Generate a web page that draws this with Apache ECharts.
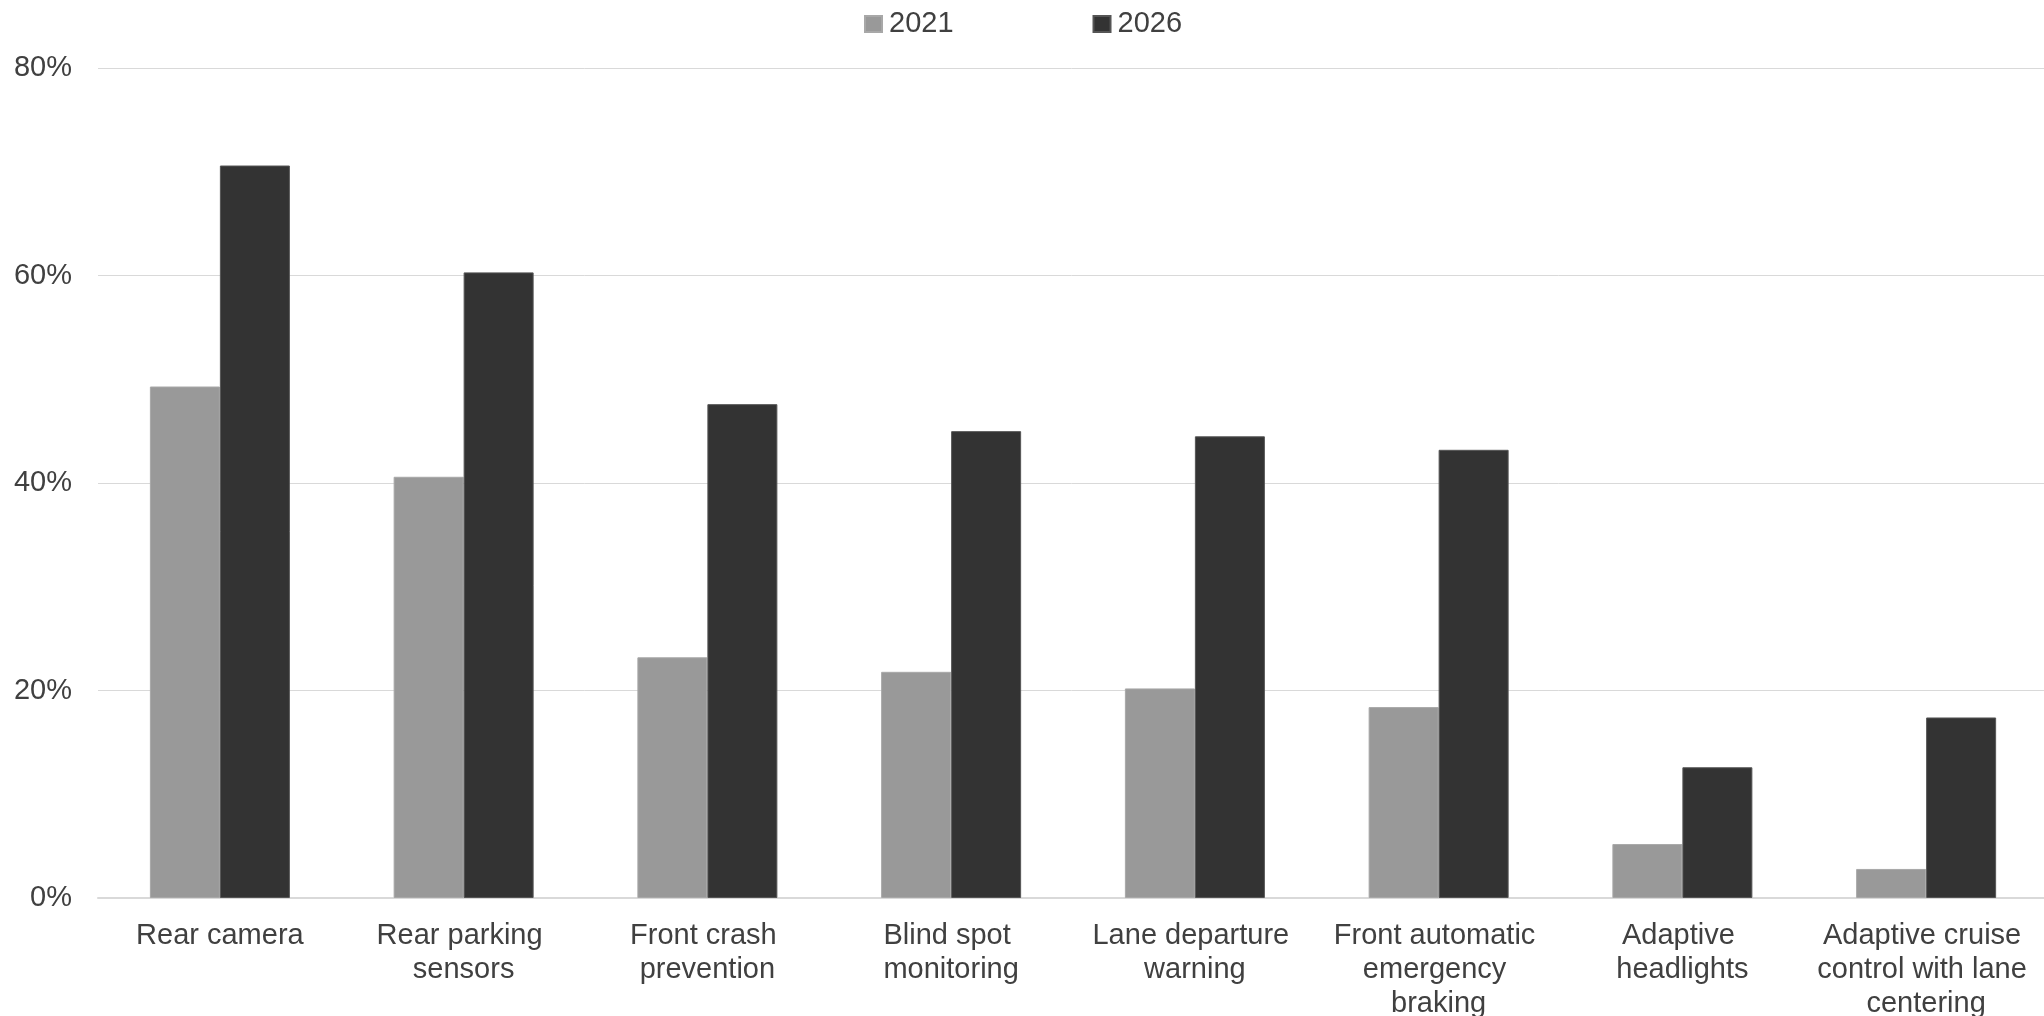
<!DOCTYPE html>
<html>
<head>
<meta charset="utf-8">
<title>Driver assistance feature adoption, 2021 vs 2026</title>
<script src="https://cdn.jsdelivr.net/npm/echarts@6/dist/echarts.min.js"></script>
<style>
  html, body { margin: 0; padding: 0; background: #ffffff; }
  #chart { width: 2044px; height: 1016px; }
</style>
</head>
<body>
<div id="chart"></div>
<script>
// Feature categories along the x axis
const categories = [
  'Rear camera',
  'Rear parking sensors',
  'Front crash prevention',
  'Blind spot monitoring',
  'Lane departure warning',
  'Front automatic emergency braking',
  'Adaptive headlights',
  'Adaptive cruise control with lane centering'
];

// Share of vehicles with each feature (%)
const values2021 = [49.3, 40.6, 23.2, 21.8, 20.2, 18.4, 5.2, 2.8];
const values2026 = [70.6, 60.3, 47.6, 45.0, 44.5, 43.2, 12.6, 17.4];

// Series names shown in the legend
const seriesNames = ['2021', '2026'];

// Value axis ticks
const yTicks = [0, 20, 40, 60, 80];

const FONT = '"Liberation Sans", Arial, Helvetica, sans-serif';
const TEXT = '#404040';

const chart = echarts.init(document.getElementById('chart'), null, { renderer: 'canvas' });

chart.setOption({
  animation: false,
  backgroundColor: '#ffffff',
  textStyle: { fontFamily: FONT },
  legend: {
    top: 8,
    left: 864,
    padding: 0,
    icon: 'rect',
    itemWidth: 17,
    itemHeight: 16,
    itemGap: 139,
    textStyle: {
      color: TEXT,
      fontSize: 29,
      fontFamily: FONT,
      lineHeight: 32,
      padding: [0, 0, 0, 2]
    },
    data: seriesNames
  },
  grid: {
    left: 98,
    right: -4,
    top: 68,
    bottom: 118,
    containLabel: false,
    outerBoundsMode: 'none'
  },
  xAxis: {
    type: 'category',
    data: categories,
    axisLine: { show: true, lineStyle: { color: '#d9d9d9', width: 2 } },
    axisTick: { show: false },
    axisLabel: {
      interval: 0,
      margin: 21,
      color: TEXT,
      fontSize: 29,
      fontFamily: FONT,
      lineHeight: 34,
      width: 222,
      overflow: 'break',
      align: 'center'
    }
  },
  yAxis: {
    type: 'value',
    min: yTicks[0],
    max: yTicks[yTicks.length - 1],
    interval: yTicks[1] - yTicks[0],
    axisLine: { show: false },
    axisTick: { show: false },
    splitLine: { show: true, lineStyle: { color: '#d9d9d9', width: 1 } },
    axisLabel: {
      margin: 26,
      color: TEXT,
      fontSize: 29,
      fontFamily: FONT,
      formatter: '{value}%'
    }
  },
  series: [
    {
      name: seriesNames[0],
      type: 'bar',
      data: values2021,
      barWidth: 70,
      barGap: '0%',
      itemStyle: { color: '#999999', borderColor: '#a8a8a8', borderWidth: 1 }
    },
    {
      name: seriesNames[1],
      type: 'bar',
      data: values2026,
      barWidth: 70,
      barGap: '0%',
      itemStyle: { color: '#333333', borderColor: '#555555', borderWidth: 1 }
    }
  ]
});
</script>
</body>
</html>
